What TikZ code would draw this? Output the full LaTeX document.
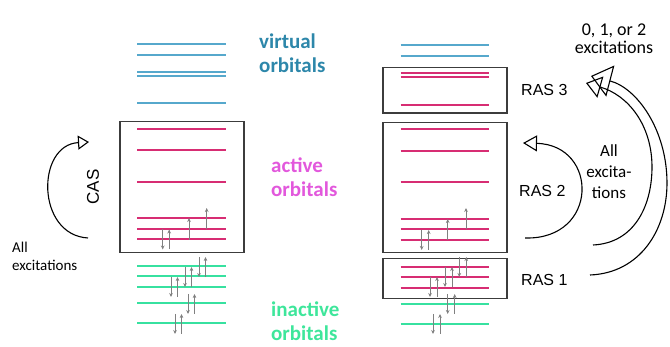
\documentclass[tikz,border=0pt]{standalone}
\usepackage{fontspec}
\setmainfont{Carlito}
\setsansfont{Liberation Sans}
\usepackage{tikz}
\usetikzlibrary{arrows.meta}
\usepackage{xcolor}
\definecolor{virtline}{RGB}{86,168,204}
\definecolor{virttext}{RGB}{45,135,170}
\definecolor{actline}{RGB}{215,45,115}
\definecolor{acttext}{RGB}{226,88,220}
\definecolor{inactline}{RGB}{55,225,160}
\definecolor{inacttext}{RGB}{62,230,155}
\definecolor{boxgray}{RGB}{60,60,60}
\definecolor{spingray}{RGB}{128,128,128}

\begin{document}
\begin{tikzpicture}[x=1pt, y=-1pt,
  virt/.style={line width=1.7pt, virtline},
  act/.style={line width=1.7pt, actline},
  inact/.style={line width=1.7pt, inactline},
  spacebox/.style={line width=1.2pt, boxgray},
  spin/.style={line width=0.8pt, spingray, -{Stealth[length=4pt, width=3.6pt]}},
  excite/.style={line width=1.1pt, black},
  orblabel/.style={font=\bfseries\fontsize{21}{24}\selectfont, align=left, inner sep=0pt, anchor=north west},
  raslabel/.style={font=\sffamily\fontsize{16}{19}\selectfont, inner sep=0pt},
  exclabel/.style={font=\fontsize{17}{20}\selectfont, inner sep=0pt}]
\useasboundingbox (0,0) rectangle (670,347);

% CAS side
\foreach \y in {44.3,55,71.7,76,103.3}
  \draw[virt] (137,\y) -- (226,\y);
\foreach \y in {129,150,181.7,218.3,229,239.3}
  \draw[act] (137,\y) -- (226,\y);
\foreach \y in {266,276,287.3,303.3,323.3}
  \draw[inact] (137,\y) -- (226,\y);
\draw[spacebox] (120,121.7) rectangle (244,252.7);

\foreach \x/\y in {162.7/239.5,199/267,185/277,171/287,188/304,175/324} {
  \draw[spin] (\x,\y-10) -- (\x,\y+10);
  \draw[spin] (\x+6.5,\y+10) -- (\x+6.5,\y-10);
}
\draw[spin] (189,240) -- (189,218);
\draw[spin] (206.7,229) -- (206.7,208);

\node[orblabel, text=virttext] (virtual) at (259,34) {virtual\\orbitals};
\node[orblabel, text=acttext] (active) at (271,158) {active\\orbitals};
\node[orblabel, text=inacttext] (inactive) at (271,302) {inactive\\orbitals};

\node[raslabel, font=\sffamily\fontsize{17}{20}\selectfont, rotate=90] (cas) at (93,187) {CAS};
\node[exclabel, font=\fontsize{15}{18}\selectfont, align=left, anchor=north west] (allcas) at (12,242) {All\\excitations};

\coordinate (cas-from) at (88,238);
\coordinate (cas-to) at (89,142);
\draw[excite, -{Triangle[open, length=11pt, width=14pt]}] (cas-from) .. controls (36,235) and (36,145) .. (cas-to);

% RAS side
\foreach \y in {45,56}
  \draw[virt] (400.7,\y) -- (489,\y);
\foreach \y in {72.7,77.3,105,129.3,150.7,181.7,219,229.3,240,266.7,276.7,287.7}
  \draw[act] (400.7,\y) -- (489,\y);
\foreach \y in {304.3,324.3}
  \draw[inact] (400.7,\y) -- (489,\y);
\draw[spacebox] (383,67.7) rectangle (507,113);
\draw[spacebox] (383,122.3) rectangle (507,252.7);
\draw[spacebox] (383,258.3) rectangle (507,298.3);

\foreach \x/\y in {421.7/240,459.3/267,445/277,430/287,447.7/304,433/324} {
  \draw[spin] (\x,\y-10) -- (\x,\y+10);
  \draw[spin] (\x+7,\y+10) -- (\x+7,\y-10);
}
\draw[spin] (447.7,240) -- (447.7,219);
\draw[spin] (466,229) -- (466,208);

\node[raslabel, anchor=west] (ras3) at (521,89.5) {RAS 3};
\node[raslabel, anchor=west] (ras2) at (519,191) {RAS 2};
\node[raslabel, anchor=west] (ras1) at (521,279.5) {RAS 1};

\node[exclabel, align=center, anchor=north, font=\fontsize{18}{18}\selectfont] (upto2) at (614,24) {0, 1, or 2\\excitations};
\node[exclabel, align=center, anchor=north, font=\fontsize{17}{21}\selectfont] (allras) at (609,144) {All\\excita-\\tions};

\coordinate (ras2-from) at (525,238);
\coordinate (ras2-to) at (523,143);
\coordinate (mid-from) at (593,245);
\coordinate (mid-to) at (586,83);
\coordinate (out-from) at (590,275);
\coordinate (out-to) at (591,76);
\draw[excite, -{Triangle[open, length=14pt, width=16pt]}] (ras2-from) .. controls (599,240) and (599,145) .. (ras2-to);
\draw[excite, -{Triangle[open, length=15pt, width=22pt]}] (mid-from) .. controls (635,243) and (652,205) .. (652,167) .. controls (652,125) and (628,95) .. (mid-to);
\draw[excite, -{Triangle[open, length=20pt, width=32pt]}] (out-from) .. controls (640,273) and (667,230) .. (667,183) .. controls (667,130) and (637,88) .. (out-to);
\end{tikzpicture}
\end{document}
